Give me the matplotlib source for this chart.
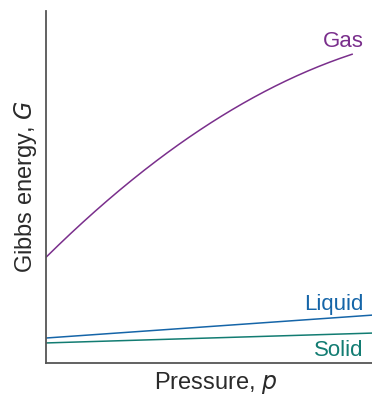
import matplotlib
matplotlib.use("Agg")
import matplotlib.pyplot as plt
import numpy as np

plt.rcParams['font.family'] = ['Liberation Sans', 'DejaVu Sans']

# pressure (arbitrary units, axis spans 0..1)
gas_p = [0.0, 0.166, 0.319, 0.472, 0.626, 0.779, 0.939]
gas_g = [0.301, 0.443, 0.557, 0.668, 0.747, 0.818, 0.878]
liquid_p = [0.0, 1.0]
liquid_g = [0.071, 0.136]
solid_p = [0.0, 1.0]
solid_g = [0.057, 0.085]

gas_color = '#7a2f8c'
liquid_color = '#1565a8'
solid_color = '#127c72'

fig = plt.figure(figsize=(3.72, 3.96), dpi=100)
ax = fig.add_axes([0.1237, 0.0833, 0.8763, 0.889])

# smooth the gas curve through the read points
xs = np.linspace(gas_p[0], gas_p[-1], 200)
coef = np.polyfit(gas_p, gas_g, 3)
ax.plot(xs, np.polyval(coef, xs), color=gas_color, lw=1.1)
ax.plot(liquid_p, liquid_g, color=liquid_color, lw=1.1)
ax.plot(solid_p, solid_g, color=solid_color, lw=1.1)

ax.set_xlim(0, 1)
ax.set_ylim(0, 1)
ax.set_xticks([])
ax.set_yticks([])
for s in ['top', 'right']:
    ax.spines[s].set_visible(False)
for s in ['left', 'bottom']:
    ax.spines[s].set_color('#555555')
    ax.spines[s].set_linewidth(1.3)

ax.text(0.974, 0.898, 'Gas', color=gas_color, fontsize=16, ha='right', va='baseline')
ax.text(0.974, 0.151, 'Liquid', color=liquid_color, fontsize=16, ha='right', va='baseline')
ax.text(0.974, 0.020, 'Solid', color=solid_color, fontsize=16, ha='right', va='baseline')

ax.set_xlabel('Pressure, $\\it{p}$', fontsize=17, color='#2a2a2a', labelpad=5)
ax.xaxis.label.set_x(0.521)
ax.set_ylabel('Gibbs energy, $\\it{G}$', fontsize=17, color='#2a2a2a', labelpad=5)

fig.savefig('out.png', dpi=100)
